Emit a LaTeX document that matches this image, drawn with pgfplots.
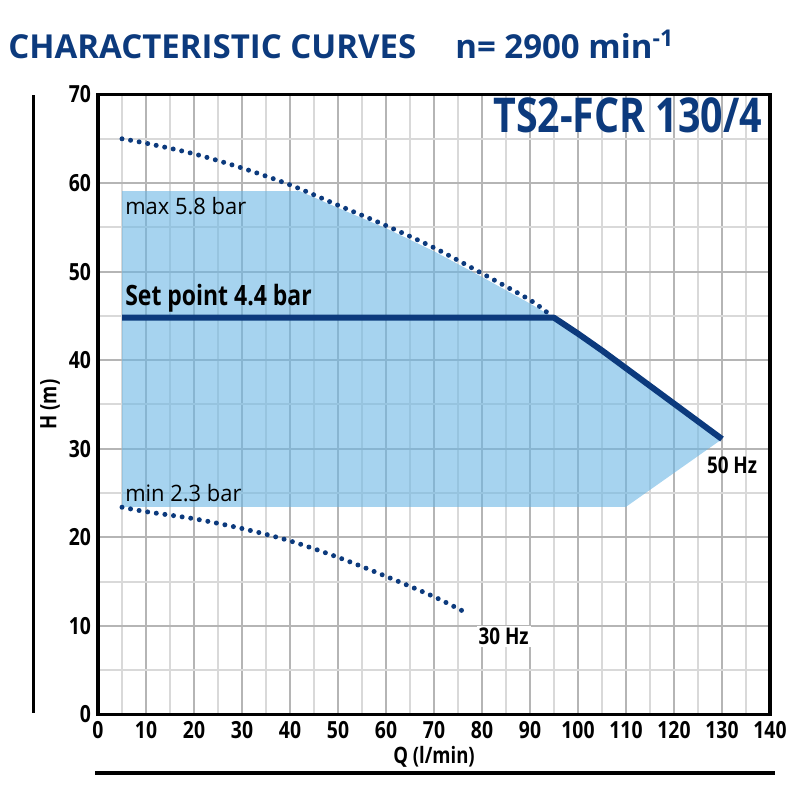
\documentclass[border=0pt]{standalone}
\usepackage{fontspec}
\setmainfont{Open Sans}[FakeStretch=0.82]
\newfontfamily\widefont{Open Sans}[FakeStretch=0.97]
\newfontfamily\titlefont{Open Sans}
\usepackage{pgfplots}
\pgfplotsset{compat=1.18}
\definecolor{navy}{HTML}{0C3A7D}
\definecolor{shadecol}{HTML}{6BB6E4}
\begin{document}
\begin{tikzpicture}
\useasboundingbox (0,0) rectangle (400pt,400pt);
\node[anchor=base west, text=navy, font=\titlefont\fontsize{16.5}{19}\selectfont\bfseries, inner sep=0pt] at (4pt,370.5pt) {CHARACTERISTIC CURVES};
\node[anchor=base west, text=navy, font=\titlefont\fontsize{16.5}{19}\selectfont\bfseries, inner sep=0pt] at (227.5pt,370.5pt) {n= 2900 min\textsuperscript{-1}};
\draw[line width=1.5pt] (16.5pt,43.5pt) -- (16.5pt,352.5pt);
\draw[line width=2pt] (47.5pt,13.5pt) -- (387.5pt,13.5pt);
\begin{axis}[
  at={(49pt,42.75pt)}, anchor=south west,
  width=336pt, height=310pt, scale only axis,
  xmin=0, xmax=140, ymin=0, ymax=70,
  xtick={0,10,...,140}, ytick={0,10,...,70},
  minor x tick num=1, minor y tick num=1,
  grid=both,
  major grid style={draw=black!29, line width=1pt},
  minor grid style={draw=black!15, line width=1pt},
  major tick length=0pt, minor tick length=0pt,
  axis line style={line width=1.6pt},
  tick label style={font=\fontsize{11.8}{13}\selectfont\bfseries},
  /pgf/number format/assume math mode=true,
  xlabel={Q (l/min)}, ylabel={H (m)},
  label style={font=\fontsize{11.3}{13}\selectfont\bfseries},
  xlabel style={at={(axis description cs:0.5,-0.068)}, anchor=center},
  ylabel style={at={(axis description cs:-0.0714,0.5)}, anchor=center},
  clip=false,
]
% operating area
\addplot[draw=none, fill=shadecol, fill opacity=0.6] coordinates {
  (5,59.1) (42,59.1) (50,57.2) (60,54.9) (70,52.3) (80,49.4) (90,46.4) (95,44.8)
  (100,43.0) (105,41.1) (110,39.1) (115,37.1) (120,35.1) (125,33.1) (129.5,30.9)
  (110,23.45) (5,23.45)} -- cycle;
% max curve
\addplot[navy, line width=2.5pt, dash pattern=on 0pt off 4.35pt, line cap=round, smooth] coordinates {
  (5,65.0) (10,64.5) (20,63.3) (30,61.7) (40,59.8) (50,57.5) (60,55.2) (70,52.7) (80,49.8) (90,46.8) (94,45.2)};
% min curve
\addplot[navy, line width=2.5pt, dash pattern=on 0pt off 4.35pt, line cap=round, smooth] coordinates {
  (5,23.4) (10,22.9) (20,22.1) (30,21.0) (40,19.6) (50,17.75) (60,15.6) (70,13.3) (77,11.4)};
% set point line
\addplot[navy, line width=3pt, line join=round] coordinates {
  (5,44.8) (95,44.8) (100,43.0) (105,41.1) (110,39.1) (115,37.1) (120,35.1) (125,33.1) (130,31.1)};
\node[anchor=base east, text=navy, font=\fontsize{24}{27}\selectfont\bfseries, inner sep=0pt] at (axis cs:138.4,65.7) {TS2-FCR 130/4};
\node[anchor=base west, font=\widefont\fontsize{11.3}{13}\selectfont, inner sep=0pt] at (axis cs:5.6,56.4) {max 5.8 bar};
\node[anchor=base west, font=\fontsize{14}{16}\selectfont\bfseries, inner sep=0pt] at (axis cs:5.6,46.2) {Set point 4.4 bar};
\node[anchor=base west, font=\widefont\fontsize{11.3}{13}\selectfont, inner sep=0pt] at (axis cs:5.6,24.1) {min 2.3 bar};
\node[anchor=base west, font=\fontsize{11.5}{13}\selectfont\bfseries, inner sep=0pt] at (axis cs:126.8,27.2) {50 Hz};
\node[anchor=base west, font=\fontsize{11.5}{13}\selectfont\bfseries, fill=white, inner sep=1pt] at (axis cs:78.8,7.85) {30 Hz};
\end{axis}
\end{tikzpicture}
\end{document}
